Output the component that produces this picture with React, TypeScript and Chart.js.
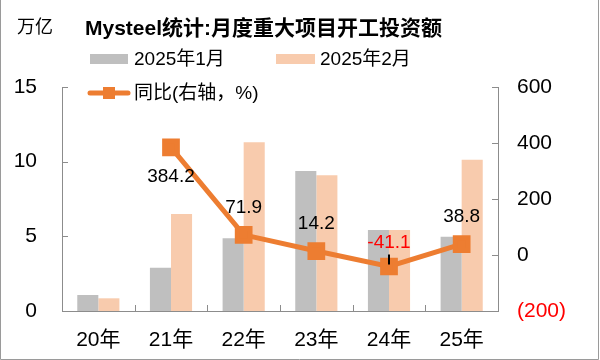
import React, { useEffect, useRef } from "react";
import { Chart, registerables } from "chart.js";

Chart.register(...registerables);

const categories = ["20年", "21年", "22年", "23年", "24年", "25年"];
const jan2025 = [1.07, 2.9, 4.87, 9.38, 5.42, 4.98];
const feb2025 = [0.85, 6.5, 11.3, 9.09, 5.42, 10.13];
const yoy = [null, 384.2, 71.9, 14.2, -41.1, 38.8];
const leftTicks = [0, 5, 10, 15];
const rightTicks = [-200, 0, 200, 400, 600];

const FONT = "'Liberation Sans', Arial, 'Noto Sans CJK SC', sans-serif";
const GRAY = "#BFBFBF";
const PEACH = "#F8CBAD";
const ORANGE = "#ED7D31";
const AXIS = "#8C8C8C";

const decorPlugin = {
  id: "decor",
  afterDraw(chart: any) {
    const ctx = chart.ctx;
    const area = chart.chartArea;
    const xs = chart.scales.x;
    const y = chart.scales.y;
    const y1 = chart.scales.y1;
    ctx.save();
    // frame
    ctx.strokeStyle = "#9a9a9a";
    ctx.lineWidth = 1;
    ctx.beginPath();
    ctx.moveTo(0.5, 0);
    ctx.lineTo(0.5, 359.5);
    ctx.lineTo(598.5, 359.5);
    ctx.lineTo(598.5, 0);
    ctx.stroke();

    // inward tick marks
    ctx.strokeStyle = AXIS;
    ctx.beginPath();
    leftTicks.forEach((v) => {
      const py = Math.round(y.getPixelForValue(v)) + 0.5;
      ctx.moveTo(area.left, py);
      ctx.lineTo(area.left + 6, py);
    });
    rightTicks.forEach((v) => {
      const py = Math.round(y1.getPixelForValue(v)) + 0.5;
      ctx.moveTo(area.right, py);
      ctx.lineTo(area.right - 6, py);
    });
    for (let i = 1; i < categories.length; i++) {
      const px = Math.round((xs.getPixelForValue(i - 1) + xs.getPixelForValue(i)) / 2) + 0.5;
      ctx.moveTo(px, area.bottom);
      ctx.lineTo(px, area.bottom - 6);
    }
    ctx.stroke();

    // data labels
    const meta = chart.getDatasetMeta(0);
    ctx.font = `19px ${FONT}`;
    ctx.textAlign = "center";
    ctx.textBaseline = "middle";
    yoy.forEach((v, i) => {
      if (v === null) return;
      const pt = meta.data[i];
      const below = v > 300;
      const ty = below ? pt.y + 29 : pt.y - (v < 0 ? 24 : 27);
      ctx.fillStyle = v < 0 ? "#FF0000" : "#000000";
      ctx.fillText(v.toFixed(1), pt.x, ty);
      if (v < 0) {
        ctx.strokeStyle = "#000";
        ctx.lineWidth = 2;
        ctx.beginPath();
        ctx.moveTo(pt.x, ty + 12);
        ctx.lineTo(pt.x, pt.y - 2);
        ctx.stroke();
      }
    });

    // title & unit
    ctx.fillStyle = "#000";
    ctx.textAlign = "left";
    ctx.font = `bold 21px ${FONT}`;
    ctx.fillText("Mysteel统计:月度重大项目开工投资额", 85, 29);
    ctx.font = `18px ${FONT}`;
    ctx.fillText("万亿", 17, 28);

    // legend
    ctx.font = `19px ${FONT}`;
    ctx.fillStyle = GRAY;
    ctx.fillRect(90, 54, 38, 10);
    ctx.fillStyle = PEACH;
    ctx.fillRect(276, 54, 39, 10);
    ctx.fillStyle = "#000";
    ctx.fillText("2025年1月", 134, 60);
    ctx.fillText("2025年2月", 320, 60);

    ctx.strokeStyle = ORANGE;
    ctx.lineWidth = 5;
    ctx.lineCap = "round";
    ctx.beginPath();
    ctx.moveTo(90, 93);
    ctx.lineTo(128, 93);
    ctx.stroke();
    ctx.fillStyle = ORANGE;
    ctx.fillRect(103, 87, 12, 12);
    ctx.fillStyle = "#000";
    ctx.fillText("同比(右轴，%)", 134, 94);
    ctx.restore();
  },
};

export default function App() {
  const ref = useRef<HTMLCanvasElement>(null);
  useEffect(() => {
    if (!ref.current) return;
    const chart = new Chart(ref.current, {
      type: "bar",
      data: {
        labels: categories,
        datasets: [
          {
            type: "line",
            label: "同比(右轴，%)",
            data: yoy,
            yAxisID: "y1",
            borderColor: ORANGE,
            backgroundColor: ORANGE,
            borderWidth: 5,
            pointStyle: "rect",
            pointRadius: 9,
            pointHoverRadius: 9,
            spanGaps: false,
            order: 0,
          } as any,
          {
            label: "2025年1月",
            data: jan2025,
            backgroundColor: GRAY,
            yAxisID: "y",
            order: 1,
            categoryPercentage: 0.58,
            barPercentage: 1,
          },
          {
            label: "2025年2月",
            data: feb2025,
            backgroundColor: PEACH,
            yAxisID: "y",
            order: 1,
            categoryPercentage: 0.58,
            barPercentage: 1,
          },
        ],
      },
      options: {
        animation: false,
        responsive: false,
        layout: { padding: { top: 87, left: 0, right: 0, bottom: 0 } },
        plugins: { legend: { display: false }, tooltip: { enabled: false }, title: { display: false } },
        scales: {
          x: {
            grid: { display: false },
            border: { display: true, color: AXIS, width: 1 },
            ticks: { color: "#000", font: { size: 21, family: FONT }, padding: 9 },
            afterFit: (s: any) => { s.height = 49; },
          },
          y: {
            position: "left",
            min: 0,
            max: 15,
            afterBuildTicks: (s: any) => { s.ticks = leftTicks.map((v) => ({ value: v })); },
            grid: { display: false, drawTicks: false },
            border: { display: true, color: AXIS, width: 1 },
            ticks: { color: "#000", font: { size: 21, family: FONT }, padding: 25 },
            afterFit: (s: any) => { s.width = 62; },
          },
          y1: {
            position: "right",
            min: -200,
            max: 600,
            afterBuildTicks: (s: any) => { s.ticks = rightTicks.map((v) => ({ value: v })); },
            grid: { display: false, drawTicks: false },
            border: { display: true, color: AXIS, width: 1 },
            ticks: {
              font: { size: 21, family: FONT },
              padding: 19,
              color: (c: any) => (c.tick && c.tick.value < 0 ? "#FF0000" : "#000"),
              callback: (v: any) => (Number(v) < 0 ? `(${-Number(v)})` : `${v}`),
            },
            afterFit: (s: any) => { s.width = 102; },
          },
        },
      },
      plugins: [decorPlugin],
    });
    return () => chart.destroy();
  }, []);
  return (
    <div style={{ position: "absolute", left: 0, top: 0, width: 600, height: 360, background: "#fff" }}>
      <canvas ref={ref} width={600} height={360} style={{ width: 600, height: 360, display: "block" }} />
    </div>
  );
}
